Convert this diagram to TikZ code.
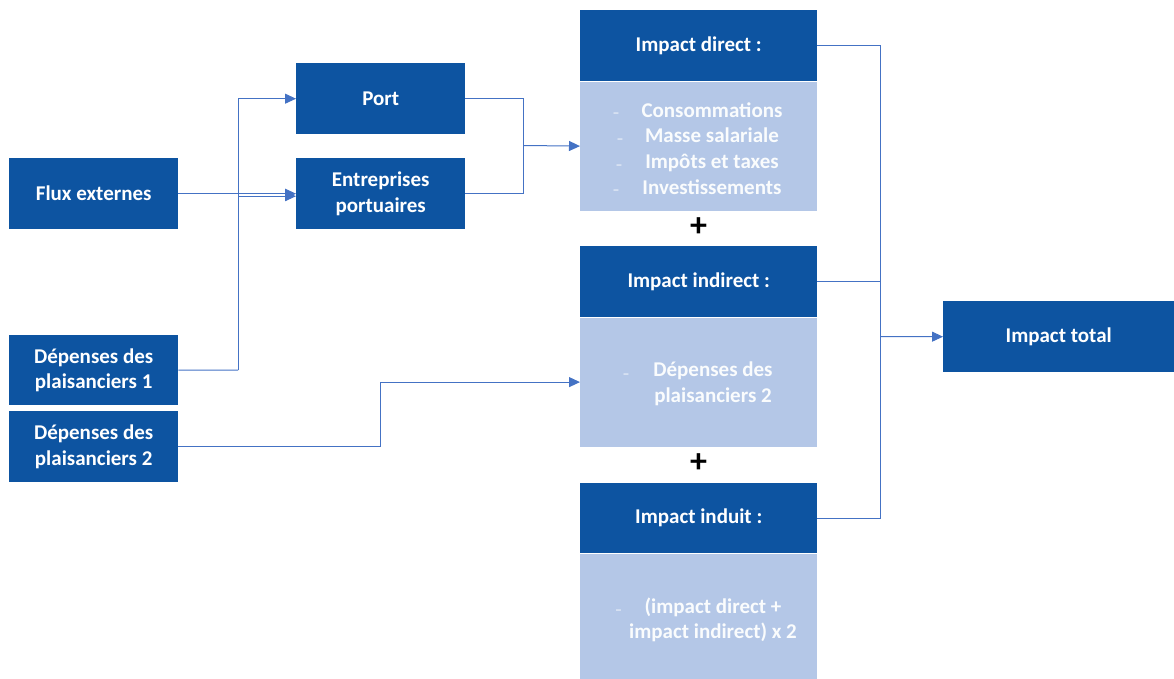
\documentclass[tikz,border=0pt]{standalone}
\usepackage{fontspec}
\setmainfont{Carlito}
\usepackage{xcolor}
\usetikzlibrary{positioning,arrows.meta}
\definecolor{boxblue}{HTML}{0D54A1}
\definecolor{paleblue}{HTML}{B4C7E7}
\definecolor{linkblue}{HTML}{4472C4}

\begin{document}
\begin{tikzpicture}[x=1pt, y=-1pt, node distance=0pt, >={Triangle[length=11pt,width=10pt]},
  box/.style={fill=boxblue, text=white, font=\fontsize{21}{25.5}\selectfont\bfseries,
    align=center, inner sep=0pt, anchor=north west, minimum width=169pt, minimum height=71pt},
  head/.style={box, minimum width=237pt},
  body/.style={fill=paleblue, inner sep=0pt, minimum width=237pt, minimum height=129pt, below=of #1},
  bodytext/.style={text=white!94!paleblue, font=\fontsize{21}{25.7}\selectfont\bfseries, align=center, inner sep=0pt},
  dashmark/.style={text=white!55!paleblue, font=\fontsize{21}{25.7}\selectfont, inner sep=0pt, anchor=mid},
  plusmark/.style={font=\fontsize{34}{34}\selectfont\bfseries, inner sep=0pt},
  link/.style={draw=linkblue, line width=1pt}]
  \useasboundingbox (0,0) rectangle (1174,679);

  % left column
  \node[box] (flux) at (9,158) {Flux externes};
  \node[box, minimum height=70pt] (dep1) at (9,335) {Dépenses des\\plaisanciers 1};
  \node[box] (dep2) at (9,411) {Dépenses des\\plaisanciers 2};

  % middle column
  \node[box] (port) at (296,63) {Port};
  \node[box] (entr) at (296,158) {Entreprises\\portuaires};

  % impacts
  \node[head] (hdirect) at (580,10) {Impact direct :};
  \node[body=hdirect] (bdirect) {};
  \node[head] (hindirect) at (580,246) {Impact indirect :};
  \node[body=hindirect] (bindirect) {};
  \node[head, minimum height=70pt] (hinduit) at (580,483) {Impact induit :};
  \node[body=hinduit] (binduit) {};
  \node[box, minimum width=231pt] (total) at (943,301) {Impact total};

  \node[bodytext] (tdirect) at (712,148.5) {Consommations\\Masse salariale\\Impôts et taxes\\Investissements};
  \foreach \x/\y in {616/116.7, 620/142.7, 619/168.7, 616/194.5}
    \node[dashmark] at (\x,\y) {-};
  \node[bodytext] (tindirect) at (713,384) {Dépenses des\\plaisanciers 2};
  \node[dashmark] at (626,377.7) {-};
  \node[bodytext] (tinduit) at (713,620) {(impact direct +\\impact indirect) x 2};
  \node[dashmark] at (618.5,613.7) {-};

  \node[plusmark] (plus1) at (698.5,226.7) {+};
  \node[plusmark] (plus2) at (698.5,463) {+};

  % connectors
  \coordinate (split1) at (238,370);
  \coordinate (join1) at (523,145.5);
  \coordinate (join2) at (880,336.5);

  \draw[link, ->] (flux.east) -- (entr.west);
  \draw[link] (dep1.east) -- (split1);
  \draw[link, ->] (split1) |- (port.west);
  \draw[link, ->] (split1) |- ([yshift=-2.5pt]entr.west);

  \draw[link] (port.east) -| (join1);
  \draw[link] (entr.east) -| (join1);
  \draw[link, ->] (join1) -- (bdirect.west);

  \draw[link, ->] (dep2.east) -- ++(202,0) |- (bindirect.west);

  \draw[link] (hdirect.east) -| (join2);
  \draw[link] (hinduit.east) -| (join2);
  \draw[link] (hindirect.east) -- (hindirect.east -| join2);
  \draw[link, ->] (join2) -- (total.west);
\end{tikzpicture}
\end{document}
